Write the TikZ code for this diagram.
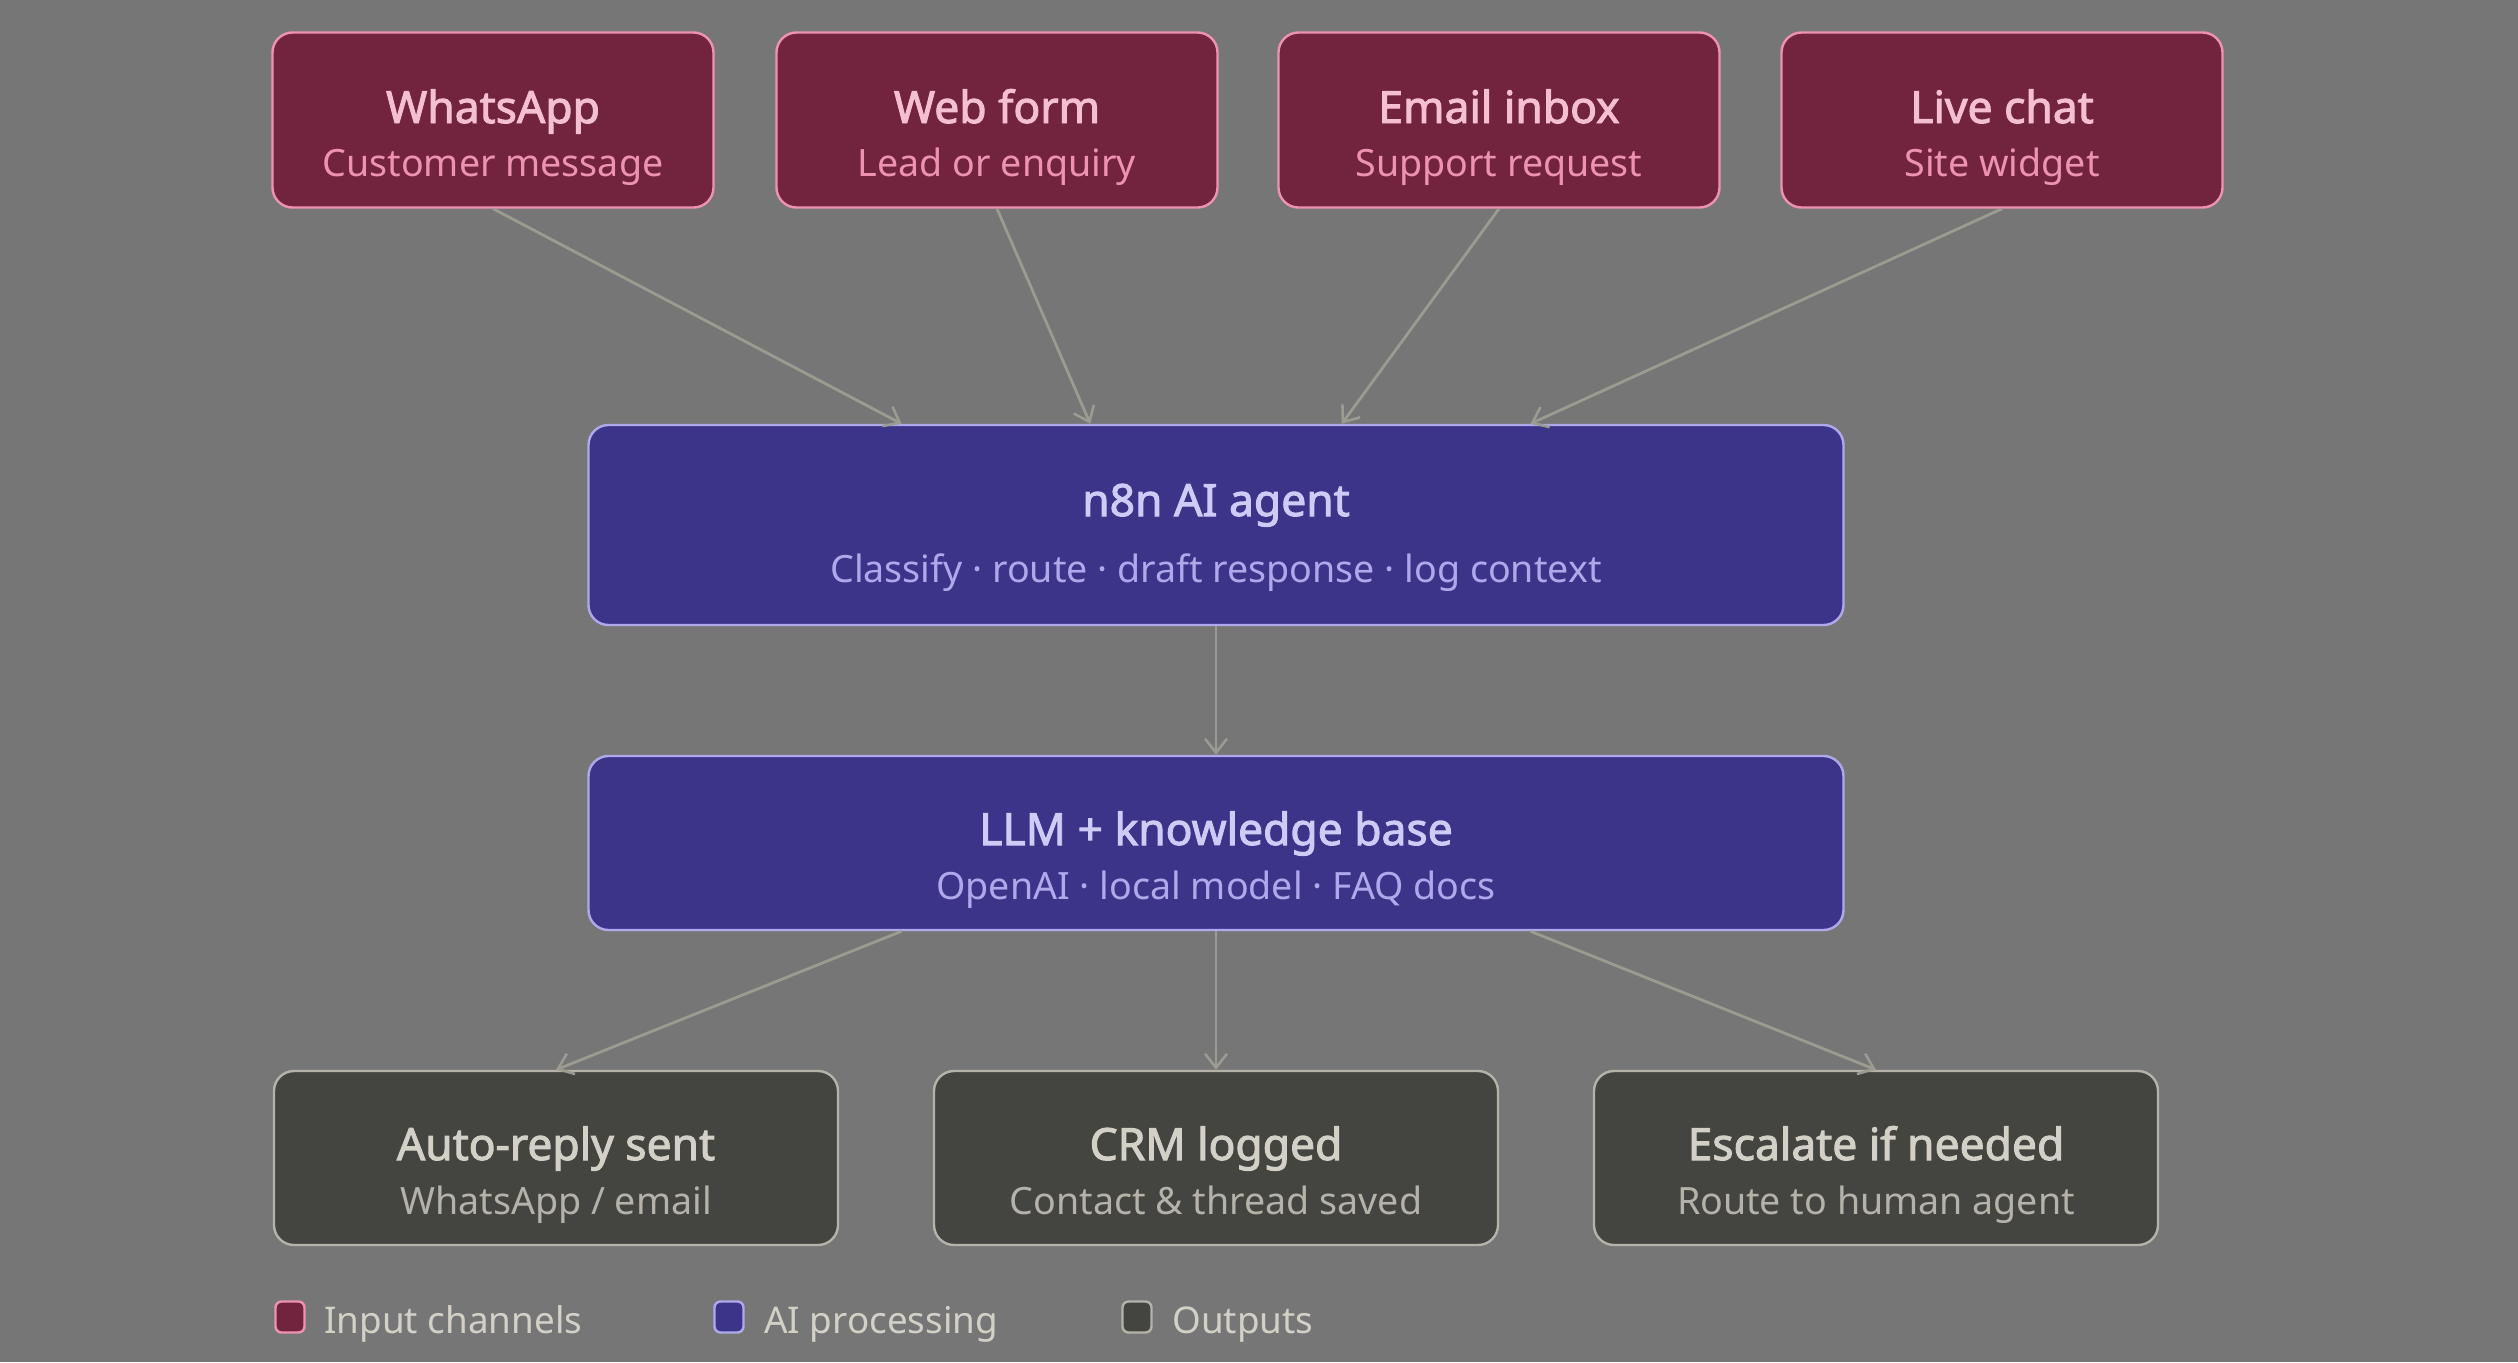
\documentclass[tikz,border=0pt]{standalone}
\usepackage{fontspec}
\setmainfont{Noto Sans}[BoldFont={Noto Sans},BoldFeatures={FakeBold=2.2}]
\usetikzlibrary{arrows.meta,calc}
\definecolor{bg}{HTML}{767676}
\definecolor{pinkfill}{HTML}{72243E}
\definecolor{pinkline}{HTML}{ED93B1}
\definecolor{pinktitle}{HTML}{F4C0D1}
\definecolor{purpfill}{HTML}{3C3489}
\definecolor{purpline}{HTML}{AFA9EC}
\definecolor{purptitle}{HTML}{CECBF6}
\definecolor{grayfill}{HTML}{444441}
\definecolor{grayline}{HTML}{B4B2A9}
\definecolor{graytitle}{HTML}{D3D1C7}
\definecolor{arrowc}{HTML}{9C9B92}
\tikzset{
  box/.style={rectangle, rounded corners=10pt, line width=1.2pt, inner sep=0pt},
  inbox/.style={box, fill=pinkfill, draw=pinkline, minimum width=220.5pt, minimum height=87.5pt},
  aibox/.style={box, fill=purpfill, draw=purpline, minimum width=627.5pt},
  outbox/.style={box, fill=grayfill, draw=grayline, minimum width=282pt, minimum height=87pt},
  ttl/.style={anchor=base, inner sep=0pt, font=\fontsize{22.2}{26}\selectfont\bfseries},
  sub/.style={anchor=base, inner sep=0pt, font=\fontsize{18.8}{22}\selectfont},
  flow/.style={draw=arrowc, line width=1.4pt, -{Straight Barb[length=7pt,width=11pt,line width=1.3pt]}},
  legsq/.style={rectangle, rounded corners=3pt, line width=1.2pt, minimum width=14.5pt, minimum height=15.5pt, inner sep=0pt},
  legtxt/.style={anchor=base west, inner sep=0pt, text=graytitle, font=\fontsize{18.4}{22}\selectfont}
}
\begin{document}
\begin{tikzpicture}[x=0.5pt,y=-0.5pt]
\fill[bg] (0,0) rectangle (2518,1362);
\useasboundingbox (0,0) rectangle (2518,1362);

% input boxes
\node[inbox] (wa) at (493,120) {};
\node[inbox] (wf) at (997,120) {};
\node[inbox] (em) at (1499,120) {};
\node[inbox] (lc) at (2002,120) {};
\node[ttl, text=pinktitle] (waT) at (493,123) {WhatsApp};
\node[sub, text=pinkline] (waS) at (493,176) {Customer message};
\node[ttl, text=pinktitle] (wfT) at (997,123) {Web form};
\node[sub, text=pinkline] (wfS) at (997,176) {Lead or enquiry};
\node[ttl, text=pinktitle] (emT) at (1499,123) {Email inbox};
\node[sub, text=pinkline] (emS) at (1499,176) {Support request};
\node[ttl, text=pinktitle] (lcT) at (2002,123) {Live chat};
\node[sub, text=pinkline] (lcS) at (2002,176) {Site widget};

% AI boxes
\node[aibox, minimum height=100pt] (agent) at (1216,525) {};
\node[ttl, text=purptitle] (agentT) at (1216,516) {n8n AI agent};
\node[sub, text=purpline] (agentS) at (1216,582) {Classify · route · draft response · log context};
\node[aibox, minimum height=87pt] (llm) at (1216,843) {};
\node[ttl, text=purptitle] (llmT) at (1216,845) {LLM + knowledge base};
\node[sub, text=purpline] (llmS) at (1216,899) {OpenAI · local model · FAQ docs};

% outputs
\node[outbox] (ar) at (556,1158) {};
\node[outbox] (crm) at (1216,1158) {};
\node[outbox] (esc) at (1876,1158) {};
\node[ttl, text=graytitle] (arT) at (556,1160) {Auto-reply sent};
\node[sub, text=grayline] (arS) at (556,1214) {WhatsApp / email};
\node[ttl, text=graytitle] (crmT) at (1216,1160) {CRM logged};
\node[sub, text=grayline] (crmS) at (1216,1214) {Contact \& thread saved};
\node[ttl, text=graytitle] (escT) at (1876,1160) {Escalate if needed};
\node[sub, text=grayline] (escS) at (1876,1214) {Route to human agent};

% connectors
\coordinate (a1) at ($(agent.north west)!0.25!(agent.north east)$);
\coordinate (a2) at ($(agent.north west)!0.4!(agent.north east)$);
\coordinate (a3) at ($(agent.north west)!0.6!(agent.north east)$);
\coordinate (a4) at ($(agent.north west)!0.75!(agent.north east)$);
\draw[flow] (wa.south) -- (a1);
\draw[flow] (wf.south) -- (a2);
\draw[flow] (em.south) -- (a3);
\draw[flow] (lc.south) -- (a4);
\draw[flow] (agent.south) -- (llm.north);
\coordinate (l1) at ($(llm.south west)!0.25!(llm.south east)$);
\coordinate (l3) at ($(llm.south west)!0.75!(llm.south east)$);
\draw[flow] (l1) -- (ar.north);
\draw[flow] (llm.south) -- (crm.north);
\draw[flow] (l3) -- (esc.north);

% legend
\node[legsq, fill=pinkfill, draw=pinkline] (lg1) at (290,1317) {};
\node[legtxt] (lg1t) at (324,1333) {Input channels};
\node[legsq, fill=purpfill, draw=purpline] (lg2) at (729,1317) {};
\node[legtxt] (lg2t) at (764,1333) {AI processing};
\node[legsq, fill=grayfill, draw=grayline] (lg3) at (1137,1317) {};
\node[legtxt] (lg3t) at (1172,1333) {Outputs};
\end{tikzpicture}
\end{document}
